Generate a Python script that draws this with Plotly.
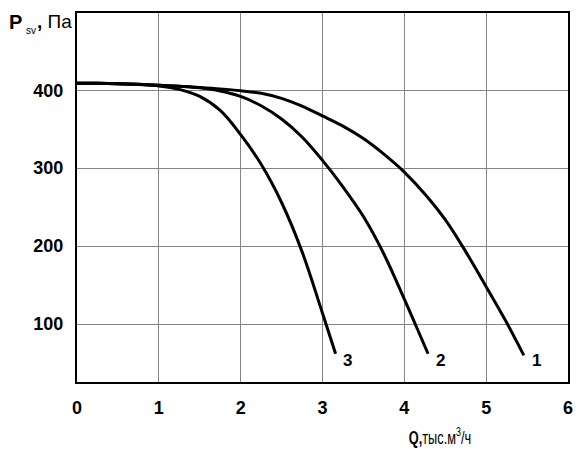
import plotly.graph_objects as go

# Curve data (Q in thousand m3/h, Psv in Pa)
q1 = [0, 0.25, 0.5, 0.75, 1, 1.25, 1.5, 1.75, 2, 2.25, 2.5, 2.75, 3, 3.25, 3.5, 3.75,
      4, 4.25, 4.5, 4.75, 5, 5.25, 5.46]
p1 = [409, 408.8, 408.3, 407.5, 406.5, 405.2, 403.6, 401.7, 399.3, 396, 389.5, 379.5, 367, 354, 338, 318,
      295, 267, 234, 193, 148, 102, 60]

q2 = [0, 0.25, 0.5, 0.75, 1, 1.25, 1.5, 1.75, 2, 2.25, 2.5, 2.75, 3, 3.25, 3.5, 3.75,
      4, 4.15, 4.29]
p2 = [409, 408.8, 408.3, 407.5, 406.5, 405, 403, 399, 392, 380, 363, 340, 310, 276, 238, 190,
      132, 96, 62]

q3 = [0, 0.25, 0.5, 0.75, 1, 1.25, 1.5, 1.75, 2, 2.25, 2.5, 2.75, 3, 3.16]
p3 = [409, 408.8, 408.2, 407.2, 405.5, 401, 392, 374, 343, 305, 256, 193, 114, 62]

curve_labels = ["1", "2", "3"]
label_q = [5.62, 4.44, 3.31]
label_p = [54, 54, 54]

x_ticks = [0, 1, 2, 3, 4, 5, 6]
y_ticks = [100, 200, 300, 400]

FONT = "Liberation Sans, Arial, sans-serif"

fig = go.Figure()
for q, p in [(q1, p1), (q2, p2), (q3, p3)]:
    fig.add_trace(go.Scatter(
        x=q, y=p, mode="lines",
        line=dict(color="black", width=3, shape="spline", smoothing=1.0),
        showlegend=False, hoverinfo="skip",
    ))

for t, xq, yp in zip(curve_labels, label_q, label_p):
    fig.add_annotation(x=xq, y=yp, text="<b>%s</b>" % t, showarrow=False,
                       font=dict(family=FONT, size=17, color="black"))

# y-axis title: "P" bold, "sv" subscript, ", Па"
fig.add_annotation(xref="paper", yref="paper", x=-0.143, y=0.976,
                   xanchor="left", yanchor="middle", showarrow=False,
                   text="<b>P</b>",
                   font=dict(family=FONT, size=20, color="black"))
fig.add_annotation(xref="paper", yref="paper", x=-0.107, y=0.952,
                   xanchor="left", yanchor="middle", showarrow=False,
                   text="sv",
                   font=dict(family=FONT, size=10, color="black"))
fig.add_annotation(xref="paper", yref="paper", x=-0.085, y=0.976,
                   xanchor="left", yanchor="middle", showarrow=False,
                   text="<b>,</b> Па",
                   font=dict(family=FONT, size=19, color="black"))

# x-axis title (condensed horizontally after drawing, like the reference)
fig.add_annotation(xref="paper", yref="paper", x=0.739, y=-0.149,
                   xanchor="center", yanchor="middle", showarrow=False,
                   text="<b>Q,</b>тыс.м<sup>3</sup>/ч",
                   font=dict(family=FONT, size=18, color="black"))

fig.update_xaxes(
    range=[0, 6], tickvals=x_ticks, ticktext=[str(v) for v in x_ticks],
    showgrid=True, gridcolor="#858585", gridwidth=1,
    showline=True, linecolor="black", linewidth=2, mirror=True,
    zeroline=False, ticks="", ticklabelstandoff=8,
    tickfont=dict(family=FONT, size=18, color="black", weight="bold"),
)
fig.update_yaxes(
    range=[25.8, 499], tickvals=y_ticks, ticktext=[str(v) for v in y_ticks],
    showgrid=True, gridcolor="#858585", gridwidth=1,
    showline=True, linecolor="black", linewidth=2, mirror=True,
    zeroline=False, ticks="", ticklabelstandoff=8,
    tickfont=dict(family=FONT, size=18, color="black", weight="bold"),
)

fig.update_layout(
    width=584, height=449,
    margin=dict(l=77, r=11, t=12, b=67),
    plot_bgcolor="white", paper_bgcolor="white",
)

post = """
document.body.style.margin='0';
document.body.style.overflow='hidden';
document.querySelectorAll('.annotation-text').forEach(function(t){
  if (t.textContent.indexOf('тыс') >= 0) {
    t.style.transformBox = 'fill-box';
    t.style.transformOrigin = 'center';
    t.style.transform = 'scaleX(0.71)';
  }
});
"""

fig.write_html("out.html", config={"displayModeBar": False}, post_script=post)
